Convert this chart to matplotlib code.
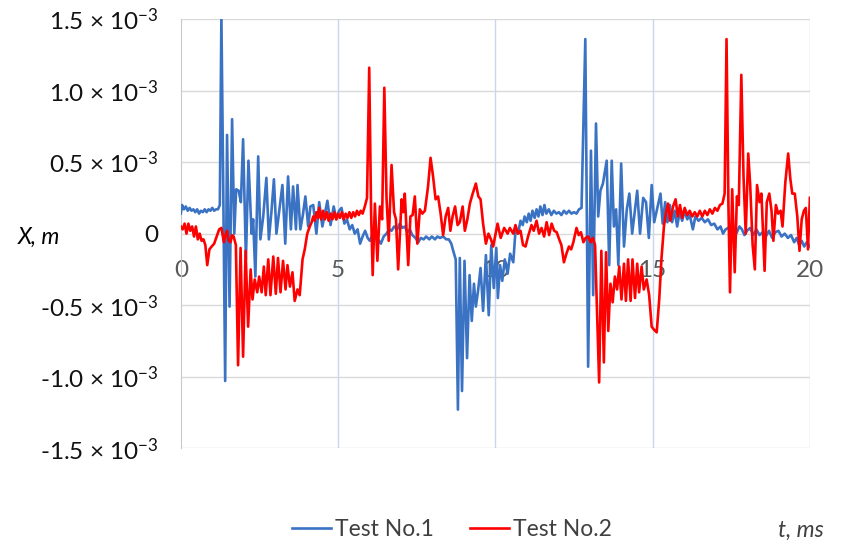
import matplotlib
matplotlib.use("Agg")
import matplotlib.pyplot as plt
from matplotlib.ticker import FuncFormatter

plt.rcParams['font.family'] = ['Lato', 'DejaVu Sans']
plt.rcParams['mathtext.fontset'] = 'custom'
plt.rcParams['mathtext.rm'] = 'Lato'
plt.rcParams['mathtext.it'] = 'Lato:italic'

# displacement records, t in ms, X in units of 1e-3 m
t1 = [0.00, 0.04, 0.10, 0.16, 0.22, 0.28, 0.34, 0.40, 0.46, 0.52, 0.58, 0.64, 0.70, 0.76, 0.82, 0.88,
      0.94, 1.00, 1.06, 1.12, 1.18, 1.24, 1.29, 1.35, 1.41, 1.47, 1.55, 1.63, 1.70, 1.76, 1.84, 1.91,
      1.98, 2.07, 2.15, 2.25, 2.30, 2.37, 2.46, 2.53, 2.62, 2.72, 2.80, 2.88, 2.96, 3.04, 3.14, 3.23,
      3.32, 3.41, 3.50, 3.57, 3.66, 3.71, 3.80, 3.88, 3.96, 4.05, 4.12, 4.21, 4.31, 4.40, 4.50, 4.58,
      4.66, 4.76, 4.86, 4.95, 5.03, 5.11, 5.20, 5.28, 5.37, 5.45, 5.53, 5.62, 5.70, 5.78, 5.86, 5.94,
      6.01, 6.09, 6.17, 6.27, 6.36, 6.45, 6.54, 6.62, 6.70, 6.78, 6.88, 6.96, 7.04, 7.12, 7.20, 7.28,
      7.36, 7.46, 7.55, 7.63, 7.72, 7.80, 7.90, 7.98, 8.08, 8.16, 8.24, 8.34, 8.44, 8.52, 8.60, 8.66,
      8.74, 8.81, 8.87, 8.94, 9.02, 9.10, 9.18, 9.25, 9.32, 9.38, 9.45, 9.53, 9.61, 9.70, 9.79, 9.87,
      9.95, 10.03, 10.08, 10.15, 10.22, 10.30, 10.39, 10.47, 10.57, 10.64, 10.72, 10.80, 10.87, 10.93,
      11.00, 11.06, 11.12, 11.18, 11.25, 11.31, 11.37, 11.43, 11.50, 11.56, 11.62, 11.70, 11.78, 11.86,
      11.94, 12.02, 12.10, 12.18, 12.26, 12.34, 12.42, 12.50, 12.58, 12.66, 12.74, 12.86, 12.95, 13.04,
      13.11, 13.20, 13.27, 13.34, 13.42, 13.54, 13.62, 13.70, 13.77, 13.84, 13.91, 14.00, 14.09, 14.18,
      14.26, 14.35, 14.43, 14.51, 14.60, 14.70, 14.79, 14.88, 14.97, 15.05, 15.14, 15.25, 15.32, 15.40,
      15.47, 15.55, 15.62, 15.70, 15.78, 15.86, 15.94, 16.02, 16.10, 16.18, 16.28, 16.36, 16.46, 16.56,
      16.66, 16.76, 16.86, 16.96, 17.06, 17.16, 17.24, 17.32, 17.40, 17.50, 17.58, 17.66, 17.76, 17.84,
      17.92, 18.00, 18.10, 18.20, 18.30, 18.40, 18.50, 18.60, 18.70, 18.80, 18.90, 19.00, 19.10, 19.20,
      19.30, 19.40, 19.50, 19.58, 19.66, 19.74, 19.82, 19.90, 20.00]
x1 = [0.14, 0.20, 0.17, 0.19, 0.16, 0.18, 0.16, 0.17, 0.15, 0.17, 0.14, 0.16, 0.15, 0.17, 0.15, 0.17,
      0.16, 0.18, 0.16, 0.17, 0.17, 0.20, 1.52, 0.30, -1.03, 0.69, -0.51, 0.80, 0.00, 0.31, 0.30, 0.22,
      0.66, -0.18, 0.51, 0.00, 0.10, -0.30, 0.54, -0.04, 0.12, 0.39, -0.04, 0.15, 0.38, 0.00, 0.18, 0.34,
      -0.07, 0.40, 0.03, 0.33, 0.03, 0.34, 0.03, 0.13, 0.26, 0.05, 0.19, 0.20, 0.00, 0.22, 0.05, 0.14,
      0.23, 0.06, 0.19, 0.10, 0.16, 0.18, 0.07, 0.10, 0.03, 0.06, 0.00, 0.03, -0.07, -0.02, 0.02, -0.03,
      -0.05, -0.01, 0.00, -0.04, -0.07, -0.02, 0.00, 0.03, 0.02, 0.05, 0.03, 0.07, 0.04, 0.05, 0.01, 0.03,
      -0.01, -0.03, -0.06, -0.03, -0.04, -0.02, -0.04, -0.02, -0.04, -0.02, -0.03, -0.02, -0.04, -0.04, -0.07, -0.12,
      -0.18, -1.23, -0.17, -1.10, -0.19, -0.87, -0.29, -0.61, -0.35, -0.51, -0.40, -0.24, -0.54, -0.15, -0.57, -0.08,
      -0.38, -0.10, -0.45, -0.22, -0.33, -0.18, -0.28, -0.14, -0.20, 0.02, 0.00, 0.09, 0.06, 0.12,
      0.08, 0.14, 0.09, 0.16, 0.11, 0.17, 0.12, 0.19, 0.13, 0.20, 0.14, 0.17, 0.13, 0.16,
      0.14, 0.15, 0.13, 0.16, 0.14, 0.16, 0.14, 0.15, 0.14, 0.17, 0.18, 1.36, -0.93, 0.58,
      -0.43, 0.77, 0.12, 0.30, 0.35, 0.51, -0.22, 0.51, 0.05, 0.17, -0.22, 0.49, -0.09, 0.17,
      0.28, 0.00, 0.15, 0.30, 0.00, 0.25, 0.22, -0.03, 0.34, 0.08, 0.17, 0.28, 0.07, 0.22,
      0.08, 0.20, 0.08, 0.16, 0.05, 0.15, 0.09, 0.16, 0.10, 0.13, 0.03, 0.12, 0.09, 0.11,
      0.08, 0.10, 0.06, 0.07, 0.03, 0.05, 0.00, 0.03, 0.04, 0.01, 0.03, 0.00, 0.05, 0.03,
      -0.01, 0.02, 0.04, -0.01, 0.03, -0.01, 0.01, -0.02, 0.02, -0.03, 0.01, 0.02, -0.02, 0.00,
      -0.03, -0.01, -0.06, -0.03, -0.08, -0.05, -0.09, -0.06, -0.09]

t2 = [0.00, 0.06, 0.12, 0.18, 0.24, 0.30, 0.36, 0.42, 0.48, 0.54, 0.60, 0.66, 0.72, 0.78, 0.84, 0.91,
      0.98, 1.06, 1.14, 1.22, 1.29, 1.37, 1.42, 1.47, 1.52, 1.58, 1.63, 1.68, 1.75, 1.82, 1.90, 1.98,
      2.06, 2.14, 2.22, 2.28, 2.35, 2.43, 2.49, 2.57, 2.64, 2.70, 2.78, 2.85, 2.94, 3.02, 3.09, 3.17,
      3.25, 3.33, 3.39, 3.47, 3.55, 3.62, 3.71, 3.78, 3.87, 3.94, 4.02, 4.10, 4.16, 4.21, 4.26, 4.31,
      4.36, 4.40, 4.46, 4.52, 4.58, 4.64, 4.70, 4.76, 4.82, 4.88, 4.94, 5.00, 5.06, 5.12, 5.18, 5.24,
      5.30, 5.36, 5.42, 5.48, 5.54, 5.60, 5.66, 5.72, 5.78, 5.85, 5.92, 5.99, 6.05, 6.10, 6.17, 6.25,
      6.33, 6.40, 6.47, 6.54, 6.61, 6.70, 6.78, 6.84, 6.91, 7.02, 7.07, 7.12, 7.23, 7.30, 7.37, 7.44,
      7.52, 7.60, 7.68, 7.76, 7.86, 7.94, 8.02, 8.10, 8.18, 8.26, 8.34, 8.42, 8.50, 8.57, 8.64, 8.72,
      8.80, 8.87, 8.96, 9.03, 9.11, 9.19, 9.28, 9.38, 9.46, 9.53, 9.61, 9.70, 9.78, 9.86, 9.93, 10.00,
      10.07, 10.17, 10.28, 10.39, 10.46, 10.57, 10.64, 10.72, 10.80, 10.88, 10.96, 11.04, 11.15, 11.22,
      11.31, 11.39, 11.47, 11.55, 11.63, 11.71, 11.79, 11.87, 11.95, 12.03, 12.10, 12.18, 12.26, 12.34,
      12.41, 12.48, 12.58, 12.65, 12.72, 12.80, 12.87, 12.95, 13.03, 13.10, 13.17, 13.30, 13.37, 13.45,
      13.52, 13.59, 13.66, 13.73, 13.80, 13.87, 13.94, 14.01, 14.09, 14.15, 14.22, 14.30, 14.36, 14.44,
      14.51, 14.57, 14.65, 14.72, 14.81, 14.89, 14.97, 15.04, 15.13, 15.21, 15.28, 15.36, 15.42, 15.49,
      15.56, 15.65, 15.73, 15.80, 15.87, 15.94, 16.02, 16.10, 16.18, 16.26, 16.34, 16.42, 16.50, 16.58,
      16.66, 16.74, 16.82, 16.90, 16.98, 17.06, 17.14, 17.22, 17.29, 17.35, 17.41, 17.46, 17.53, 17.61,
      17.68, 17.74, 17.82, 17.89, 17.96, 18.04, 18.10, 18.18, 18.25, 18.32, 18.40, 18.46, 18.56, 18.63,
      18.71, 18.78, 18.84, 18.92, 18.99, 19.07, 19.13, 19.22, 19.31, 19.38, 19.44, 19.52, 19.60, 19.67,
      19.74, 19.81, 19.87, 19.94, 20.00]
x2 = [0.05, 0.03, 0.07, 0.00, 0.07, 0.02, 0.05, -0.02, 0.05, -0.04, 0.00, -0.05, -0.04, -0.08, -0.22, -0.11,
      -0.09, -0.07, -0.02, 0.03, 0.04, -0.06, -0.01, 0.02, -0.05, -0.06, -0.01, -0.02, -0.08, -0.92, -0.10, -0.86,
      -0.12, -0.65, -0.25, -0.46, -0.32, -0.41, -0.30, -0.41, -0.23, -0.43, -0.18, -0.43, -0.16, -0.42, -0.17, -0.41,
      -0.19, -0.39, -0.22, -0.37, -0.27, -0.47, -0.39, -0.43, -0.18, -0.11, 0.00, 0.05, 0.08, 0.12, 0.09, 0.15,
      0.11, 0.18, 0.10, 0.16, 0.10, 0.15, 0.09, 0.14, 0.10, 0.15, 0.10, 0.14, 0.11, 0.15, 0.10, 0.14,
      0.11, 0.15, 0.11, 0.15, 0.12, 0.16, 0.13, 0.16, 0.14, 0.19, 0.25, 1.16, 0.15, -0.29, 0.21, -0.19,
      0.19, 0.10, 1.02, 0.25, -0.05, 0.48, 0.15, 0.10, -0.25, 0.24, 0.15, 0.28, -0.22, 0.12, 0.13, 0.26,
      -0.07, 0.17, 0.14, 0.16, 0.33, 0.53, 0.40, 0.24, 0.26, 0.14, -0.01, 0.12, 0.18, 0.02, 0.12, 0.19,
      0.06, 0.08, 0.19, 0.02, 0.10, 0.21, 0.28, 0.35, 0.26, 0.24, 0.07, -0.07, 0.00, -0.04, -0.09, -0.01,
      0.07, -0.03, 0.04, 0.00, 0.04, 0.00, 0.06, 0.00, 0.02, -0.08, -0.09, -0.02, 0.06, 0.02,
      0.09, 0.00, 0.04, -0.02, 0.08, -0.01, 0.07, 0.02, 0.01, -0.04, -0.08, -0.20, -0.14, -0.09,
      -0.11, -0.06, 0.04, -0.01, 0.01, -0.06, -0.03, -0.02, -0.06, -0.03, -0.08, -1.04, -0.12, -0.90,
      -0.13, -0.68, -0.35, -0.48, -0.30, -0.39, -0.23, -0.46, -0.21, -0.47, -0.18, -0.47, -0.18, -0.45,
      -0.21, -0.41, -0.23, -0.39, -0.32, -0.43, -0.65, -0.67, -0.69, -0.46, -0.18, 0.05, 0.14, 0.21,
      0.09, 0.19, 0.24, 0.12, 0.20, 0.11, 0.18, 0.13, 0.16, 0.12, 0.15, 0.12, 0.16, 0.12,
      0.16, 0.13, 0.17, 0.14, 0.18, 0.16, 0.20, 0.21, 0.28, 1.36, 0.20, -0.41, 0.31, -0.27,
      0.26, 0.20, 1.11, 0.40, 0.00, 0.56, 0.35, -0.08, -0.25, 0.34, 0.22, 0.28, -0.26, 0.22,
      0.28, 0.16, -0.05, 0.20, 0.14, 0.16, 0.05, 0.36, 0.56, 0.38, 0.28, 0.28, 0.12, -0.12,
      0.10, 0.16, 0.18, -0.11, 0.25]

labels = ['Test No.1', 'Test No.2']
colors = ['#3a72c4', '#ff0000']
yticks = [-1.5, -1.0, -0.5, 0.0, 0.5, 1.0, 1.5]
xticks = [0, 5, 10, 15, 20]


def ylab(v, pos):
    if abs(v) < 1e-9:
        return '0'
    return '%.1f × 10$^{-3}$' % v


fig = plt.figure(figsize=(8.41, 5.44), dpi=100)
ax = fig.add_axes([0.215, 0.176, 0.748, 0.789])

ax.plot(t1, x1, color=colors[0], lw=1.9, label=labels[0], zorder=3)
ax.plot(t2, x2, color=colors[1], lw=1.9, label=labels[1], zorder=4)

ax.set_xlim(0, 20)
ax.set_ylim(-1.5, 1.5)
ax.set_yticks(yticks)
ax.set_xticks(xticks)
ax.yaxis.set_major_formatter(FuncFormatter(ylab))

# horizontal grid grey, vertical grid pale blue
for v in yticks:
    ax.axhline(v, color='#d9d9d9', lw=1.0, zorder=1)
for v in xticks[1:]:
    ax.axvline(v, color='#c9d6ec', lw=1.0, zorder=1)

for s in ['top', 'right']:
    ax.spines[s].set_visible(False)
ax.spines['left'].set_color('#c8c8c8')
ax.spines['bottom'].set_position(('data', 0))
ax.spines['bottom'].set_visible(False)

ax.tick_params(axis='y', length=0, pad=16, labelsize=17.5, labelcolor='#111111')
ax.tick_params(axis='x', length=0, pad=19, labelsize=17.5, labelcolor='#595959')

fig.text(18 / 841, 1 - 237 / 544, 'X, m', fontsize=16.5, style='italic', va='center', ha='left')
fig.text(778 / 841, 1 - 530 / 544, 't, ms', fontsize=16.5, style='italic', va='center', ha='left',
         color='#404040')

fig.legend(loc='center', bbox_to_anchor=(452 / 841, 1 - 530 / 544), ncol=2, frameon=False,
           fontsize=16.5, handlelength=1.7, handletextpad=0.15, columnspacing=1.6,
           labelcolor='#404040')

fig.savefig('out.png', dpi=100)
